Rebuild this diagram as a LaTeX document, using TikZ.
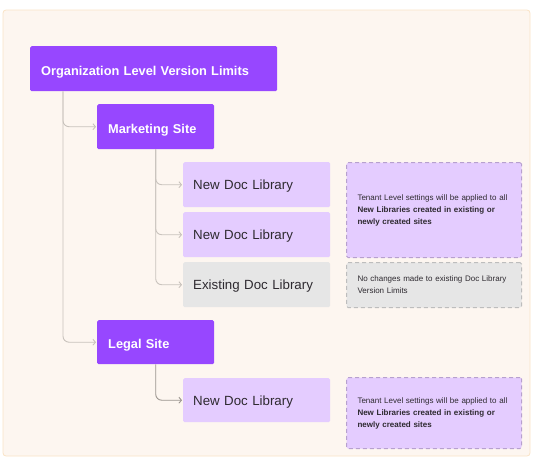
\documentclass[tikz,border=0pt]{standalone}
\usepackage{fontspec}
\setmainfont{Liberation Sans}
\usetikzlibrary{arrows.meta}
\definecolor{bgfill}{HTML}{FDF6F0}
\definecolor{bgline}{HTML}{FAE3C6}
\definecolor{purp}{HTML}{9747FF}
\definecolor{lpurp}{HTML}{E4CCFF}
\definecolor{lgray}{HTML}{E6E6E6}
\definecolor{dpurpline}{HTML}{B7A0CF}
\definecolor{grayline}{HTML}{BDBDBD}
\definecolor{connc}{HTML}{C8C2BC}
\definecolor{conndark}{HTML}{9A948E}
\definecolor{txt}{HTML}{2E2A30}
\tikzset{
  box/.style={anchor=north west, inner xsep=0pt, inner ysep=0pt, rounded corners=1.5pt, align=left},
  sitebox/.style={box, fill=purp, text=white, font=\fontsize{12.8}{15}\selectfont\bfseries, text height=13pt, text depth=0pt},
  libbox/.style={box, fill=lpurp, text=txt, font=\fontsize{13.3}{16}\selectfont, text height=10pt, text depth=0pt},
  oldbox/.style={libbox, fill=lgray},
  notebox/.style={box, fill=lpurp, draw=dpurpline, line width=1pt, dash pattern=on 4pt off 3pt, text=txt, font=\fontsize{8}{12}\selectfont},
  graynote/.style={notebox, fill=lgray, draw=grayline},
  conn/.style={draw=connc, line width=0.9pt, rounded corners=6pt, -{Straight Barb[length=2.5pt,width=6pt]}, shorten >=1pt},
  conndk/.style={conn, draw=conndark}
}
\begin{document}
\begin{tikzpicture}[x=1pt,y=-1pt]
\useasboundingbox (0,0) rectangle (535,461);
\draw[fill=bgfill, draw=bgline, line width=0.8pt, rounded corners=3pt] (3,10) rectangle (530,456);

\node[sitebox, minimum width=247pt, minimum height=45pt, text width=247pt] (org) at (30,46) {\hspace*{11pt}Organization Level Version Limits};
\node[sitebox, minimum width=117pt, minimum height=45pt, text width=117pt] (mkt) at (97,104) {\hspace*{11pt}Marketing Site};
\node[libbox, minimum width=147pt, minimum height=45pt, text width=147pt] (ndla) at (183,162) {\hspace*{10pt}New Doc Library};
\node[libbox, minimum width=147pt, minimum height=45pt, text width=147pt] (ndlb) at (183,212) {\hspace*{10pt}New Doc Library};
\node[oldbox, minimum width=147pt, minimum height=45pt, text width=147pt] (edl) at (183,262) {\hspace*{10pt}Existing Doc Library};
\node[sitebox, minimum width=117pt, minimum height=44pt, text width=117pt] (legal) at (97,320) {\hspace*{11pt}Legal Site};
\node[libbox, minimum width=147pt, minimum height=44pt, text width=147pt] (ndlc) at (183,378) {\hspace*{10pt}New Doc Library};

\node[notebox, minimum width=175pt, minimum height=95pt, text width=175pt] (tna) at (346,162) {\hspace*{11pt}Tenant Level settings will be applied to all\\\hspace*{11pt}\textbf{New Libraries created in existing or}\\\hspace*{11pt}\textbf{newly created sites}};
\node[graynote, minimum width=175pt, minimum height=45pt, text width=175pt] (nochg) at (346,262) {\hspace*{11pt}No changes made to existing Doc Library\\\hspace*{11pt}Version Limits};
\node[notebox, minimum width=175pt, minimum height=71pt, text width=175pt] (tnc) at (346,377) {\hspace*{11pt}Tenant Level settings will be applied to all\\\hspace*{11pt}\textbf{New Libraries created in existing or}\\\hspace*{11pt}\textbf{newly created sites}};

\coordinate (orgstem) at ([xshift=33pt]org.south west);
\draw[conn] (orgstem) |- (mkt.west);
\draw[conn] (orgstem) |- (legal.west);
\draw[conn] (mkt.south) |- (ndla.west);
\draw[conn] (mkt.south) |- (ndlb.west);
\draw[conn] (mkt.south) |- (edl.west);
\draw[conndk] (legal.south) |- (ndlc.west);
\end{tikzpicture}
\end{document}
